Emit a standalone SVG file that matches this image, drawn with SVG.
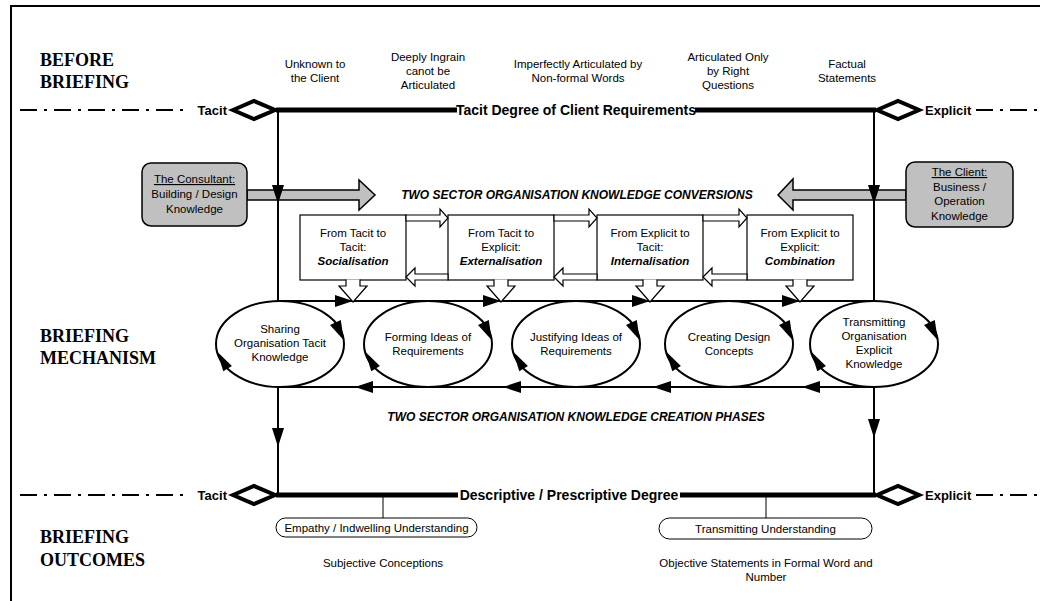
<svg xmlns="http://www.w3.org/2000/svg" width="1040" height="601" viewBox="0 0 1040 601">
<defs>
<style>
.t{font-family:"Liberation Sans",Arial,sans-serif;font-size:11.5px;fill:#000;text-anchor:middle}
.b{font-family:"Liberation Sans",Arial,sans-serif;font-size:13px;font-weight:bold;fill:#000}
.bt{font-family:"Liberation Sans",Arial,sans-serif;font-size:14px;font-weight:bold;fill:#000;text-anchor:middle}
.bi{font-family:"Liberation Sans",Arial,sans-serif;font-size:12px;font-weight:bold;font-style:italic;fill:#000;text-anchor:middle}
.h{font-family:"Liberation Serif","Times New Roman",serif;font-size:18px;font-weight:bold;fill:#000}
.dd{stroke:#000;stroke-width:2;stroke-dasharray:17 7 3 7;fill:none}
.thick{stroke:#000;stroke-width:5;fill:none}
.ln{stroke:#000;stroke-width:2;fill:none}
.thin{stroke:#000;stroke-width:1;fill:none}
.dia{fill:#fff;stroke:#000;stroke-width:4}
.ah{fill:#000;stroke:none}
.box{fill:#fff;stroke:#000;stroke-width:1.2}
.blk{fill:#fff;stroke:#000;stroke-width:1.2}
.gray{fill:#c0c0c0;stroke:#000;stroke-width:1.5}
.ell{fill:#fff;stroke:#000;stroke-width:2}
.pill{fill:#fff;stroke:#000;stroke-width:1}
</style>
</defs>
<rect width="1040" height="601" fill="#fff"/>
<path d="M11,601 V6 H1040" class="ln"/>

<g id="labels">
<text class="h" x="40" y="66">BEFORE</text>
<text class="h" x="40" y="88">BRIEFING</text>
<text class="h" x="40" y="342">BRIEFING</text>
<text class="h" x="40" y="364">MECHANISM</text>
<text class="h" x="40" y="543">BRIEFING</text>
<text class="h" x="40" y="566">OUTCOMES</text>
</g>

<g id="top-texts">
<text class="t" x="315" y="68">Unknown to</text>
<text class="t" x="315" y="82">the Client</text>
<text class="t" x="428" y="61">Deeply Ingrain</text>
<text class="t" x="428" y="75">canot be</text>
<text class="t" x="428" y="89">Articulated</text>
<text class="t" x="578" y="68">Imperfectly Articulated by</text>
<text class="t" x="578" y="82">Non-formal Words</text>
<text class="t" x="728" y="61">Articulated Only</text>
<text class="t" x="728" y="75">by Right</text>
<text class="t" x="728" y="89">Questions</text>
<text class="t" x="847" y="68">Factual</text>
<text class="t" x="847" y="82">Statements</text>
</g>

<g id="top-axis">
<line x1="20" y1="110" x2="190" y2="110" class="dd"/>
<text class="b" x="227" y="115" text-anchor="end">Tacit</text>
<line x1="276" y1="110" x2="457" y2="110" class="thick"/>
<line x1="695" y1="110" x2="876" y2="110" class="thick"/>
<text class="bt" x="576" y="115">Tacit Degree of Client Requirements</text>
<polygon class="dia" points="233,110 254,101 275,110 254,119"/>
<polygon class="dia" points="877,110 898,101 919,110 898,119"/>
<text class="b" x="925" y="115">Explicit</text>
<line x1="976" y1="110" x2="1040" y2="110" class="dd"/>
</g>

<g id="consultant">
<polygon class="gray" points="247,190 359,190 359,180 375,195 359,210 359,200 247,200"/>
<rect class="gray" x="142" y="163" width="105" height="63" rx="9"/>
<text class="t" x="194.5" y="183" text-decoration="underline">The Consultant:</text>
<text class="t" x="194.5" y="198">Building / Design</text>
<text class="t" x="194.5" y="213">Knowledge</text>
</g>

<g id="client">
<polygon class="gray" points="906,190 793,190 793,179 778,195 793,210 793,200 906,200"/>
<rect class="gray" x="906" y="162" width="107" height="65" rx="9"/>
<text class="t" x="959.5" y="176" text-decoration="underline">The Client:</text>
<text class="t" x="959.5" y="191">Business /</text>
<text class="t" x="959.5" y="205">Operation</text>
<text class="t" x="959.5" y="220">Knowledge</text>
</g>

<text class="bi" x="577" y="199">TWO SECTOR ORGANISATION KNOWLEDGE CONVERSIONS</text>

<g id="connectors">
<line x1="278" y1="110" x2="278" y2="301" class="ln"/>
<line x1="874" y1="110" x2="874" y2="301" class="ln"/>
<polygon class="ah" points="272,185 284,185 278,204"/>
<polygon class="ah" points="868,185 880,185 874,204"/>
<line x1="277" y1="301" x2="875" y2="301" class="ln"/>
<polygon class="ah" points="335,295 335,307 353,301"/>
<polygon class="ah" points="483,295 483,307 501,301"/>
<polygon class="ah" points="632,295 632,307 650,301"/>
<polygon class="ah" points="782,295 782,307 800,301"/>
<line x1="277" y1="387" x2="875" y2="387" class="ln"/>
<polygon class="ah" points="355,387 373,381 373,393"/>
<polygon class="ah" points="503,387 521,381 521,393"/>
<polygon class="ah" points="653,387 671,381 671,393"/>
<polygon class="ah" points="802,387 820,381 820,393"/>
<line x1="278" y1="387" x2="278" y2="495" class="ln"/>
<line x1="874" y1="387" x2="874" y2="495" class="ln"/>
<polygon class="ah" points="272,428 284,428 278,447"/>
<polygon class="ah" points="868,419 880,419 874,438"/>
</g>

<g id="conv-1">
<rect class="box" x="300" y="215" width="106" height="65"/>
<text class="t" x="353" y="237">From Tacit to</text>
<text class="t" x="353" y="251">Tacit:</text>
<text class="t" x="353" y="265" font-weight="bold" font-style="italic">Socialisation</text>
</g>
<g id="conv-2">
<rect class="box" x="448" y="215" width="106" height="65"/>
<text class="t" x="501" y="237">From Tacit to</text>
<text class="t" x="501" y="251">Explicit:</text>
<text class="t" x="501" y="265" font-weight="bold" font-style="italic">Externalisation</text>
</g>
<g id="conv-3">
<rect class="box" x="597" y="215" width="106" height="65"/>
<text class="t" x="650" y="237">From Explicit to</text>
<text class="t" x="650" y="251">Tacit:</text>
<text class="t" x="650" y="265" font-weight="bold" font-style="italic">Internalisation</text>
</g>
<g id="conv-4">
<rect class="box" x="747" y="215" width="106" height="65"/>
<text class="t" x="800" y="237">From Explicit to</text>
<text class="t" x="800" y="251">Explicit:</text>
<text class="t" x="800" y="265" font-weight="bold" font-style="italic">Combination</text>
</g>

<g id="block-arrows">
<polygon class="blk" points="406,215 440,215 440,209 448,218 440,227 440,221 406,221"/>
<polygon class="blk" points="406,277 415,268 415,274 448,274 448,280 415,280 415,286"/>
<polygon class="blk" points="554,215 589,215 589,209 597,218 589,227 589,221 554,221"/>
<polygon class="blk" points="554,277 563,268 563,274 597,274 597,280 563,280 563,286"/>
<polygon class="blk" points="703,215 739,215 739,209 747,218 739,227 739,221 703,221"/>
<polygon class="blk" points="703,277 712,268 712,274 747,274 747,280 712,280 712,286"/>
<path class="blk" d="M346,279.4 V286 H339 L353,302 L367,286 H360 V279.4"/>
<path class="blk" d="M494,279.4 V286 H487 L501,302 L515,286 H508 V279.4"/>
<path class="blk" d="M643,279.4 V286 H636 L650,302 L664,286 H657 V279.4"/>
<path class="blk" d="M793,279.4 V286 H786 L800,302 L814,286 H807 V279.4"/>
</g>

<g id="phase-1">
<ellipse class="ell" cx="280" cy="344" rx="64" ry="43"/>
<polygon class="ah" points="343.8,340.3 340.8,320.1 330,325.1"/>
<polygon class="ah" points="217,351.5 231.9,366.1 223.3,371.3"/>
<text class="t" x="280" y="333">Sharing</text>
<text class="t" x="280" y="347">Organisation Tacit</text>
<text class="t" x="280" y="361">Knowledge</text>
</g>
<g id="phase-2">
<ellipse class="ell" cx="428" cy="344" rx="64" ry="43"/>
<polygon class="ah" points="491.8,340.3 488.8,320.1 478,325.1"/>
<polygon class="ah" points="365,351.5 379.9,366.1 371.3,371.3"/>
<text class="t" x="428" y="341">Forming Ideas of</text>
<text class="t" x="428" y="355">Requirements</text>
</g>
<g id="phase-3">
<ellipse class="ell" cx="576" cy="344" rx="64" ry="43"/>
<polygon class="ah" points="639.8,340.3 636.8,320.1 626,325.1"/>
<polygon class="ah" points="513,351.5 527.9,366.1 519.3,371.3"/>
<text class="t" x="576" y="341">Justifying Ideas of</text>
<text class="t" x="576" y="355">Requirements</text>
</g>
<g id="phase-4">
<ellipse class="ell" cx="729" cy="344" rx="64" ry="43"/>
<polygon class="ah" points="792.8,340.3 789.8,320.1 779,325.1"/>
<polygon class="ah" points="666,351.5 680.9,366.1 672.3,371.3"/>
<text class="t" x="729" y="341">Creating Design</text>
<text class="t" x="729" y="355">Concepts</text>
</g>
<g id="phase-5">
<ellipse class="ell" cx="874" cy="344" rx="64" ry="43"/>
<polygon class="ah" points="937.8,340.3 934.8,320.1 924,325.1"/>
<polygon class="ah" points="811,351.5 825.9,366.1 817.3,371.3"/>
<text class="t" x="874" y="326">Transmitting</text>
<text class="t" x="874" y="340">Organisation</text>
<text class="t" x="874" y="354">Explicit</text>
<text class="t" x="874" y="368">Knowledge</text>
</g>

<text class="bi" x="576" y="421">TWO SECTOR ORGANISATION KNOWLEDGE CREATION PHASES</text>

<g id="bottom-axis">
<line x1="20" y1="495" x2="190" y2="495" class="dd"/>
<text class="b" x="227" y="500" text-anchor="end">Tacit</text>
<line x1="276" y1="495" x2="458" y2="495" class="thick"/>
<line x1="680" y1="495" x2="876" y2="495" class="thick"/>
<text class="bt" x="569" y="500">Descriptive / Prescriptive Degree</text>
<polygon class="dia" points="233,495 254,486 275,495 254,504"/>
<polygon class="dia" points="877,495 898,486 919,495 898,504"/>
<text class="b" x="925" y="500">Explicit</text>
<line x1="976" y1="495" x2="1040" y2="495" class="dd"/>
<line x1="383" y1="495" x2="383" y2="518" class="thin"/>
<line x1="766" y1="495" x2="766" y2="518" class="thin"/>
</g>

<g id="outcome-tacit">
<rect class="pill" x="276" y="518" width="201" height="19" rx="9.5"/>
<text class="t" x="376.5" y="531.5">Empathy / Indwelling Understanding</text>
<text class="t" x="383" y="567">Subjective Conceptions</text>
</g>
<g id="outcome-explicit">
<rect class="pill" x="659" y="518" width="213" height="21" rx="10.5"/>
<text class="t" x="765.5" y="532.5">Transmitting Understanding</text>
<text class="t" x="766" y="567">Objective Statements in Formal Word and</text>
<text class="t" x="766" y="581">Number</text>
</g>
</svg>
